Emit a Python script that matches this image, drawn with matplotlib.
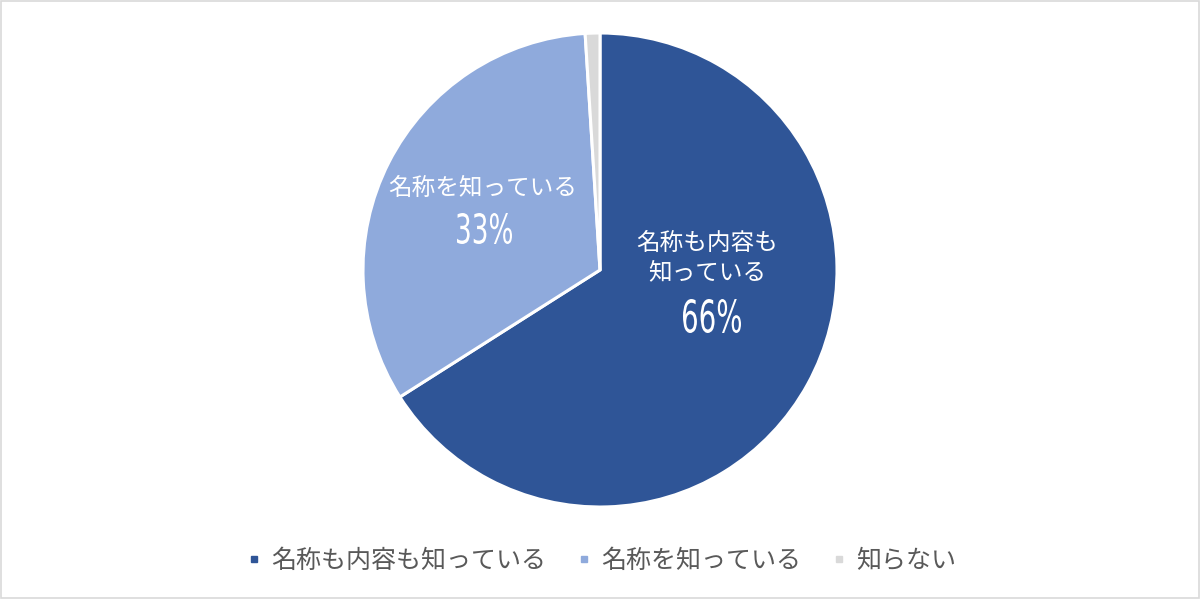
import matplotlib.pyplot as plt
from matplotlib.lines import Line2D
from matplotlib.patches import Rectangle, PathPatch
from matplotlib.textpath import TextPath
from matplotlib.font_manager import FontProperties
from matplotlib.transforms import Affine2D, IdentityTransform

plt.rcParams['font.family'] = ['Noto Sans CJK JP', 'DejaVu Sans']

labels = ['名称も内容も知っている', '名称を知っている', '知らない']
inner_labels = ['名称も内容も\n知っている', '名称を知っている', '']
pct_labels = ['66%', '33%', '']
values = [66, 33, 1]
colors = ['#2F5597', '#8FAADC', '#D9D9D9']

W, H = 1200, 599
fig = plt.figure(figsize=(W / 100, H / 100), dpi=100)

# pie centre (600, 270) px, radius 237 px
cx, cy, r = 600, 270, 237
ax = fig.add_axes([(cx - r) / W, 1 - (cy + r) / H, 2 * r / W, 2 * r / H])
wedges, _ = ax.pie(values, colors=colors, startangle=90, counterclock=False,
                   wedgeprops=dict(edgecolor='white', linewidth=2.2))
ax.set_xlim(-1, 1)
ax.set_ylim(-1, 1)
ax.set_aspect('equal')
ax.axis('off')

# data labels (positions in pixels of the figure, from top-left)
lab_pos = [(707, 258), (483, 188)]
for i in range(2):
    x, y = lab_pos[i]
    fig.text(x / W, 1 - y / H, inner_labels[i], color='white', fontsize=17,
             ha='center', va='center', linespacing=1.3)

# percentages in a narrow face: squeeze the glyph outlines into a box
pct_box = [(683, 299, 58, 34), (457, 213, 55, 31)]
fp = FontProperties(family='DejaVu Sans')
for i in range(2):
    x0, y0, bw, bh = pct_box[i]
    tp = TextPath((0, 0), pct_labels[i], size=40, prop=fp)
    ext = tp.get_extents()
    tr = (Affine2D().translate(-ext.x0, -ext.y0)
          .scale(bw / ext.width, bh / ext.height)
          .translate(x0, H - y0 - bh))
    fig.patches.append(PathPatch(tr.transform_path(tp), transform=IdentityTransform(),
                                 facecolor='white', edgecolor='none'))

handles = [Line2D([], [], marker='s', linestyle='none', markersize=5,
                  markerfacecolor=c, markeredgecolor=c) for c in colors]
fig.legend(handles, labels, loc='center', bbox_to_anchor=(0.5, 1 - 561 / H),
           ncol=3, frameon=False, fontsize=18, labelcolor='#595959',
           handletextpad=0.3, columnspacing=1.1, handlelength=0.8)

fig.patches.append(Rectangle((0.0005, 0.001), 0.999, 0.998, transform=fig.transFigure,
                             fill=False, edgecolor='#D9D9D9', linewidth=1.2))

fig.savefig('out.png', dpi=100, facecolor='white')
